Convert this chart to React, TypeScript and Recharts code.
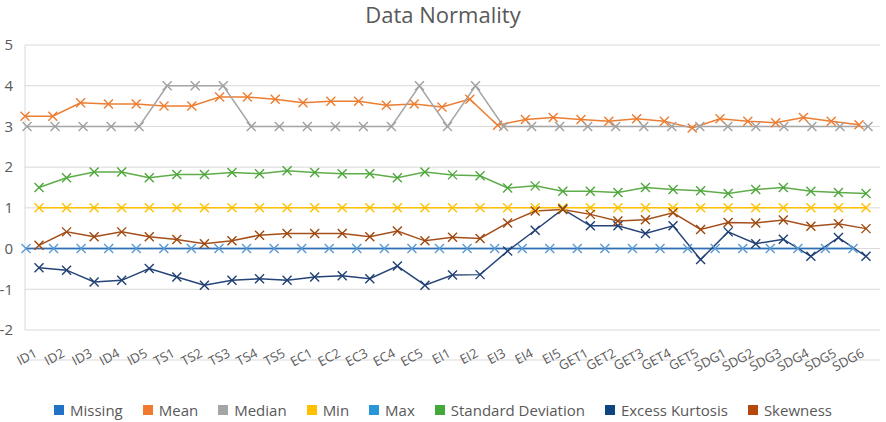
import React from 'react';
import { LineChart, Line, XAxis, YAxis, CartesianGrid } from 'recharts';

const categories = ['ID1','ID2','ID3','ID4','ID5','TS1','TS2','TS3','TS4','TS5','EC1','EC2','EC3','EC4','EC5','EI1','EI2','EI3','EI4','EI5','GET1','GET2','GET3','GET4','GET5','SDG1','SDG2','SDG3','SDG4','SDG5','SDG6'];

const missing = [0,0,0,0,0,0,0,0,0,0,0,0,0,0,0,0,0,0,0,0,0,0,0,0,0,0,0,0,0,0,0];
const mean = [3.25,3.25,3.58,3.55,3.55,3.50,3.50,3.72,3.72,3.67,3.58,3.62,3.62,3.52,3.55,3.48,3.67,3.03,3.17,3.22,3.17,3.13,3.19,3.13,2.96,3.19,3.13,3.09,3.22,3.13,3.04];
const median = [3,3,3,3,3,4,4,4,3,3,3,3,3,3,4,3,4,3,3,3,3,3,3,3,3,3,3,3,3,3,3];
const minimum = [1,1,1,1,1,1,1,1,1,1,1,1,1,1,1,1,1,1,1,1,1,1,1,1,1,1,1,1,1,1,1];
const maximum = [0,0,0,0,0,0,0,0,0,0,0,0,0,0,0,0,0,0,0,0,0,0,0,0,0,0,0,0,0,0,0];
const stdDev = [1.50,1.74,1.88,1.88,1.74,1.82,1.82,1.87,1.84,1.91,1.87,1.84,1.84,1.74,1.88,1.81,1.79,1.49,1.54,1.41,1.41,1.38,1.50,1.45,1.42,1.35,1.45,1.50,1.41,1.38,1.35];
const kurtosis = [-0.47,-0.53,-0.82,-0.78,-0.49,-0.70,-0.90,-0.78,-0.74,-0.78,-0.70,-0.67,-0.74,-0.43,-0.90,-0.65,-0.64,-0.06,0.45,0.97,0.56,0.56,0.37,0.56,-0.27,0.41,0.12,0.23,-0.19,0.27,-0.19];
const skewness = [0.08,0.41,0.29,0.41,0.29,0.22,0.12,0.19,0.33,0.37,0.37,0.37,0.29,0.43,0.19,0.28,0.25,0.63,0.92,0.96,0.84,0.68,0.71,0.88,0.47,0.64,0.63,0.70,0.55,0.61,0.49];

const yTicks = [-2,-1,0,1,2,3,4,5];

const legendItems = [
  { name: 'Missing', color: '#2272C6' },
  { name: 'Mean', color: '#F07B2E' },
  { name: 'Median', color: '#A5A5A5' },
  { name: 'Min', color: '#FFC000' },
  { name: 'Max', color: '#2B95D9' },
  { name: 'Standard Deviation', color: '#45A83A' },
  { name: 'Excess Kurtosis', color: '#0E447F' },
  { name: 'Skewness', color: '#B5480C' },
];

const data = categories.map((name, i) => ({
  name,
  Missing: missing[i],
  Mean: mean[i],
  Median: median[i],
  Min: minimum[i],
  Max: maximum[i],
  SD: stdDev[i],
  Kurt: kurtosis[i],
  Skew: skewness[i],
}));

const FONT = '"Open Sans", sans-serif';
const TXT = '#595959';

const makeX = (color: string) => (props: any) => {
  const { cx, cy, index } = props;
  if (cx == null || cy == null) return <g key={`n${index}`} />;
  const r = 4.5;
  return (
    <path
      key={`x${index}`}
      d={`M${cx - r},${cy - r}L${cx + r},${cy + r}M${cx + r},${cy - r}L${cx - r},${cy + r}`}
      stroke={color}
      strokeWidth={1.4}
      fill="none"
    />
  );
};

const XTick = (props: any) => {
  const { x, y, payload } = props;
  const ax = x - 1;
  const ay = y - 4;
  return (
    <text
      x={ax}
      y={ay}
      transform={`rotate(-28 ${ax} ${ay})`}
      textAnchor="end"
      fontSize={13}
      fill={TXT}
      fontFamily={FONT}
    >
      {payload.value}
    </text>
  );
};

export default function App() {
  return (
    <div style={{ position: 'absolute', left: 0, top: 0, width: 886, height: 422, background: '#fff', fontFamily: FONT }}>
      <div style={{ position: 'absolute', top: 0, left: 0, width: 886, textAlign: 'center', fontSize: 22, lineHeight: '28px', color: TXT }}>
        Data Normality
      </div>
      <LineChart width={886} height={422} data={data} margin={{ top: 45, right: 6, left: 0, bottom: 37 }}>
        <CartesianGrid xAxisId="b" vertical={false} stroke="#D9D9D9" />
        <XAxis
          xAxisId="b"
          dataKey="name"
          interval={0}
          padding={{ left: 14, right: 14 }}
          tick={<XTick />}
          tickLine={false}
          tickSize={0}
          tickMargin={0}
          axisLine={{ stroke: '#D9D9D9' }}
          height={55}
        />
        <XAxis xAxisId="a" dataKey="name" hide padding={{ left: 1, right: 27 }} />
        <XAxis xAxisId="m" dataKey="name" hide padding={{ left: 0, right: 21 }} />
        <XAxis xAxisId="md" dataKey="name" hide padding={{ left: 2, right: 12 }} />
        <YAxis
          domain={[-2, 5]}
          ticks={yTicks}
          width={25}
          tickLine={false}
          tickSize={0}
          tickMargin={12}
          axisLine={{ stroke: '#D9D9D9' }}
          tick={{ fontSize: 15, fill: TXT, fontFamily: FONT }}
          interval={0}
        />
        <Line xAxisId="a" dataKey="Max" stroke="#5B9BD5" strokeWidth={1.5} dot={makeX('#5B9BD5')} isAnimationActive={false} />
        <Line xAxisId="a" dataKey="Missing" stroke="#2E6FB5" strokeWidth={1.5} dot={false} isAnimationActive={false} />
        <Line xAxisId="m" dataKey="Mean" stroke="#ED7D31" strokeWidth={1.5} dot={makeX('#ED7D31')} isAnimationActive={false} />
        <Line xAxisId="md" dataKey="Median" stroke="#A5A5A5" strokeWidth={1.5} dot={makeX('#A0A0A0')} isAnimationActive={false} />
        <Line xAxisId="b" dataKey="Min" stroke="#FFC000" strokeWidth={1.5} dot={makeX('#FFC000')} isAnimationActive={false} />
        <Line xAxisId="b" dataKey="SD" stroke="#5EAD4A" strokeWidth={1.5} dot={makeX('#4EA73C')} isAnimationActive={false} />
        <Line xAxisId="b" dataKey="Kurt" stroke="#264478" strokeWidth={1.5} dot={makeX('#1F3F72')} isAnimationActive={false} />
        <Line xAxisId="b" dataKey="Skew" stroke="#A5501C" strokeWidth={1.5} dot={makeX('#9E480E')} isAnimationActive={false} />
      </LineChart>
      <div style={{ position: 'absolute', top: 400, left: 0, width: 886, display: 'flex', justifyContent: 'center', alignItems: 'center', gap: 20, fontSize: 15, color: TXT, lineHeight: '20px' }}>
        {legendItems.map((it) => (
          <div key={it.name} style={{ display: 'flex', alignItems: 'center' }}>
            <span style={{ display: 'inline-block', width: 10, height: 10, background: it.color, marginRight: 6 }} />
            <span>{it.name}</span>
          </div>
        ))}
      </div>
    </div>
  );
}
